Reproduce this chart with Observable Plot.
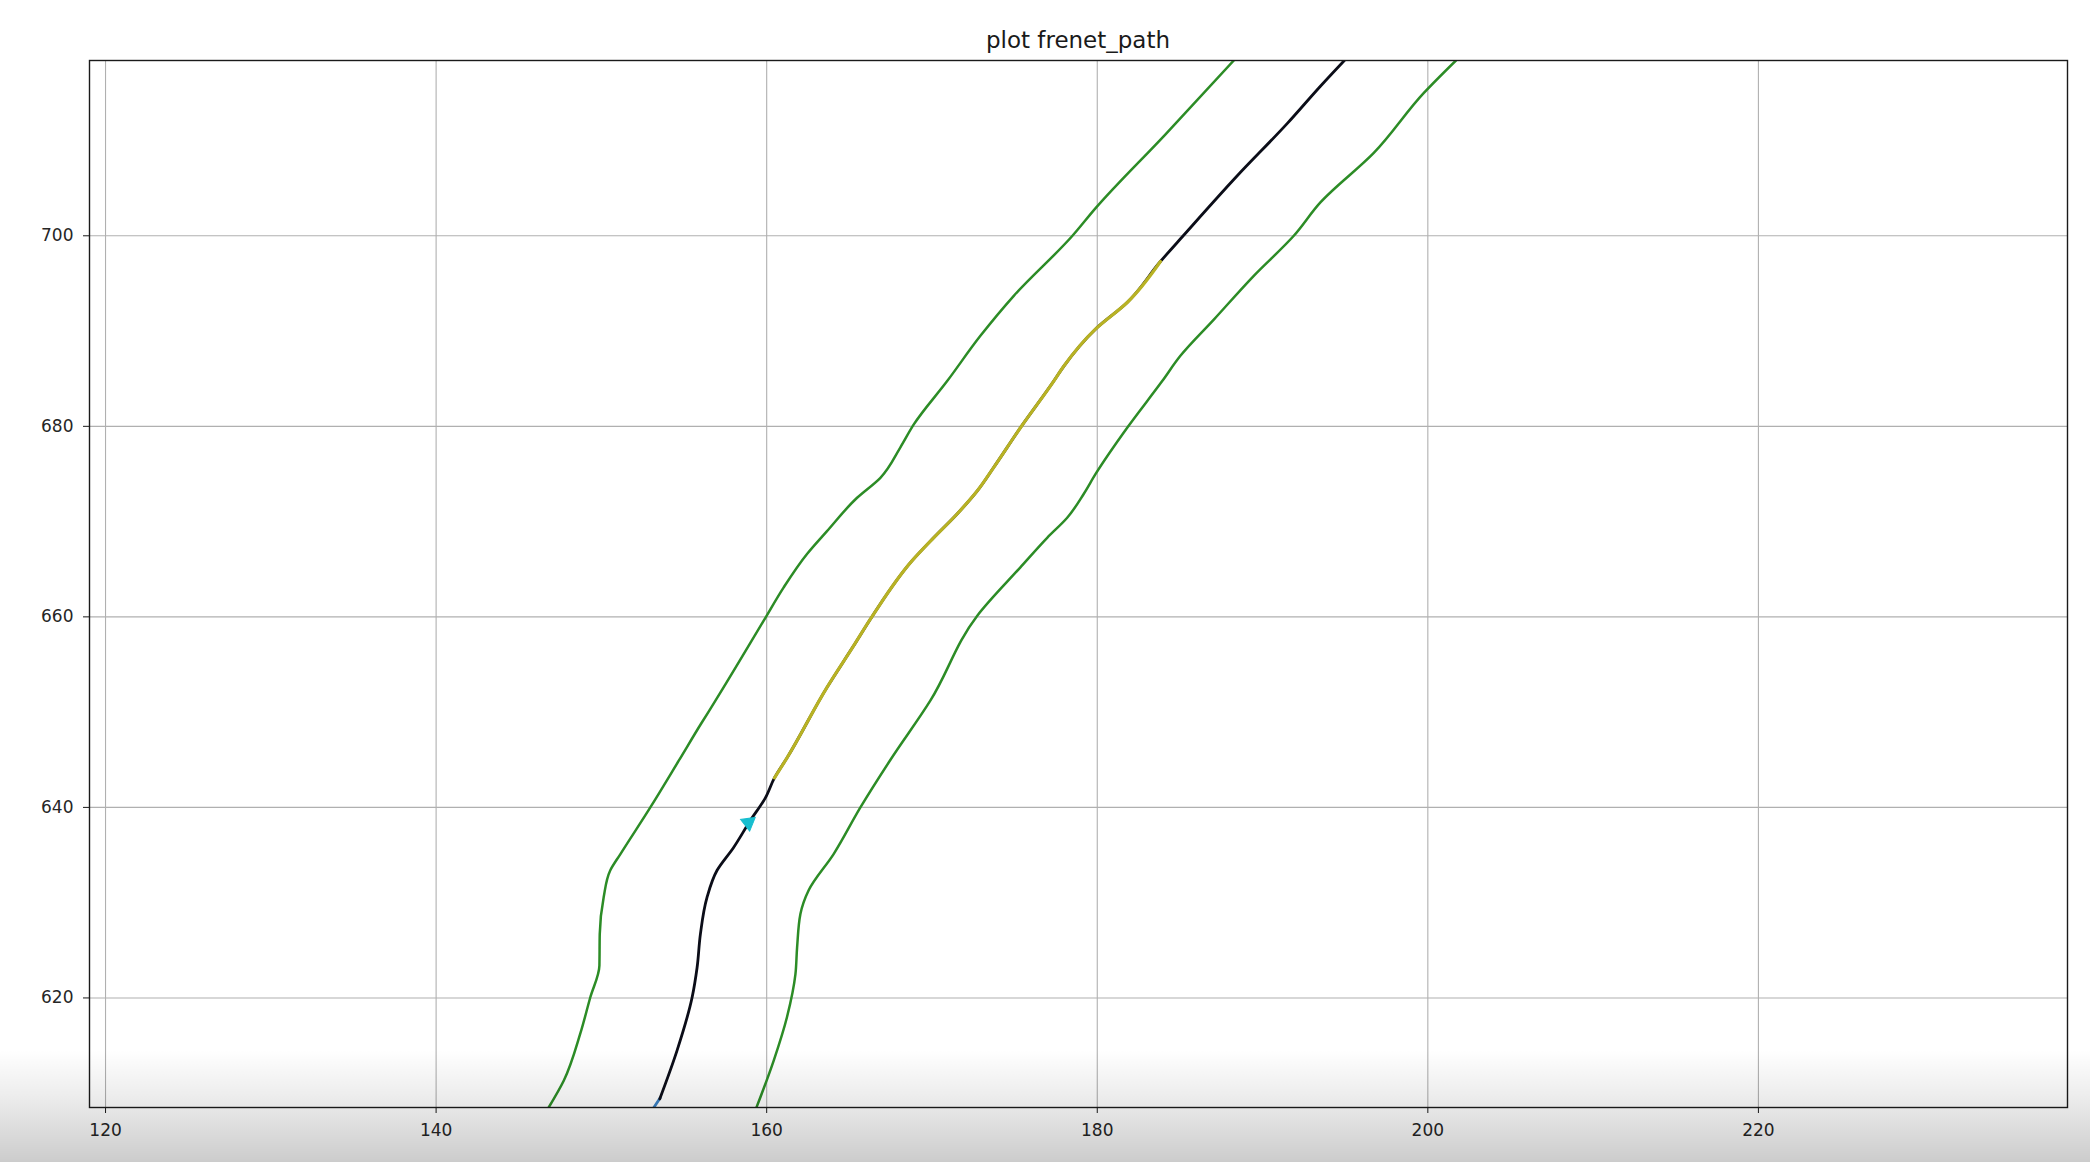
<!DOCTYPE html>
<html>
<head>
<meta charset="utf-8">
<script src="https://cdn.jsdelivr.net/npm/d3@7"></script>
<script src="https://cdn.jsdelivr.net/npm/@observablehq/plot@0.6"></script>
<style>
  html, body { margin: 0; padding: 0; background: #fff; }
  #wrap { position: relative; width: 2090px; height: 1162px; overflow: hidden; }
  #title { position: absolute; left: 89px; width: 1978px; top: 29px; text-align: center;
           font-family: "DejaVu Sans", sans-serif; font-size: 23px; line-height: 1; color: #1a1a1a; }
  #chart { position: absolute; left: 0; top: 50px; }
  #shade { position: absolute; left: 0; top: 1050px; width: 2090px; height: 112px; pointer-events: none;
           background: linear-gradient(to bottom, rgba(0,0,0,0) 0%, rgba(0,0,0,0.07) 40%, rgba(0,0,0,0.2) 100%); }
</style>
</head>
<body>
<div id="wrap">
  <div id="title">plot frenet_path</div>
  <div id="chart"></div>
  <div id="shade"></div>
</div>
<script>
// ---- data ----
const xTicks = [120, 140, 160, 180, 200, 220];
const yTicks = [620, 640, 660, 680, 700];

const leftBoundX = [146.81, 147.72, 148.73, 149.33, 149.88, 149.9, 150.14, 150.54, 151.15, 152.96, 154.68, 156.0, 156.9, 159.82, 161.03, 162.44, 163.65, 165.47, 166.88, 168.09, 168.9, 170.92, 172.93, 174.95, 178.5, 179.9, 184.1, 188.26];
const leftBoundY = [608.5, 611.3, 616.3, 620.07, 623.4, 626.7, 630.6, 633.4, 635.1, 640.0, 644.9, 648.7, 651.2, 659.6, 663.1, 666.6, 669.0, 672.5, 674.6, 677.8, 680.2, 684.75, 689.5, 693.7, 700.0, 702.9, 710.6, 718.4];

const rightBoundX = [159.38, 160.42, 161.23, 161.74, 161.84, 162.04, 162.54, 164.05, 165.67, 167.49, 169.9, 172.73, 175.35, 176.97, 178.18, 179.18, 179.9, 181.81, 183.93, 185.03, 187.05, 189.47, 191.89, 193.5, 196.73, 199.76, 201.7];
const rightBoundY = [608.5, 613.4, 618.0, 622.5, 625.3, 628.8, 631.3, 635.1, 640.0, 645.0, 651.2, 660.1, 665.2, 668.3, 670.4, 672.9, 675.0, 679.85, 684.75, 687.4, 691.2, 695.8, 700.0, 703.5, 708.7, 715.0, 718.4];

const refPathX = [153.53, 154.58, 155.49, 155.79, 155.99, 156.39, 157.0, 158.0, 159.0, 159.92, 160.47, 161.23, 163.65, 165.2, 166.4, 168.8, 170.1, 171.52, 172.73, 173.74, 175.35, 177.37, 177.97, 179.89, 181.81, 183.82, 185.2, 188.47, 191.5, 193.5, 194.95];
const refPathY = [609.4, 614.5, 620.07, 623.2, 626.7, 630.55, 633.4, 635.8, 638.6, 641.0, 643.1, 645.2, 652.6, 656.8, 660.1, 665.9, 668.3, 670.8, 673.2, 675.7, 679.85, 684.75, 686.3, 690.2, 693.0, 697.3, 700.0, 706.3, 711.8, 715.7, 718.4];

const frenetX = [160.47, 161.23, 163.65, 165.2, 166.4, 168.8, 170.1, 171.52, 172.73, 173.74, 175.35, 177.37, 177.97, 179.89, 181.81, 183.82];
const frenetY = [643.1, 645.2, 652.6, 656.8, 660.1, 665.9, 668.3, 670.8, 673.2, 675.7, 679.85, 684.75, 686.3, 690.2, 693.0, 697.3];

const historyX = [153.1, 153.55];
const historyY = [608.3, 609.5];

const vehicleX = [158.9];
const vehicleY = [638.4];

// ---- build tables ----
const toRows = (xs, ys) => xs.map((x, i) => ({x, y: ys[i]}));
const leftBound = toRows(leftBoundX, leftBoundY);
const rightBound = toRows(rightBoundX, rightBoundY);
const refPath = toRows(refPathX, refPathY);
const frenet = toRows(frenetX, frenetY);
const history = toRows(historyX, historyY);
const vehicle = toRows(vehicleX, vehicleY);

const chart = Plot.plot({
  width: 2090,
  height: 1112,
  marginLeft: 89,
  marginRight: 23,
  marginTop: 10,
  marginBottom: 55,
  style: {fontFamily: "DejaVu Sans, sans-serif", fontSize: "17px", color: "#262626", background: "transparent"},
  x: {domain: [119.03, 238.7], label: null},
  y: {domain: [608.5, 718.4], label: null},
  marks: [
    Plot.gridX(xTicks, {stroke: "#b0b0b0", strokeOpacity: 1, strokeWidth: 1.1}),
    Plot.gridY(yTicks, {stroke: "#b0b0b0", strokeOpacity: 1, strokeWidth: 1.1}),
    Plot.line(leftBound, {x: "x", y: "y", stroke: "#2c8c26", strokeWidth: 2.5, curve: "monotone-y", clip: true}),
    Plot.line(rightBound, {x: "x", y: "y", stroke: "#2c8c26", strokeWidth: 2.5, curve: "monotone-y", clip: true}),
    Plot.line(history, {x: "x", y: "y", stroke: "#3b82c4", strokeWidth: 2.8, clip: true}),
    Plot.line(refPath, {x: "x", y: "y", stroke: "#0b0d18", strokeWidth: 2.8, curve: "monotone-y", clip: true}),
    Plot.line(frenet, {x: "x", y: "y", stroke: "#b8b224", strokeWidth: 3.2, curve: "monotone-y", clip: true}),
    Plot.dot(vehicle, {x: "x", y: "y", symbol: "triangle", r: 5.5, fill: "#17becf", stroke: "#17becf", strokeWidth: 1, rotate: 172}),
    Plot.frame({stroke: "#1a1a1a", strokeWidth: 1.4}),
    Plot.axisX(xTicks, {tickSize: 6, tickPadding: 10, stroke: "#1a1a1a"}),
    Plot.axisY(yTicks, {tickSize: 6, tickPadding: 10, stroke: "#1a1a1a"})
  ]
});
document.getElementById("chart").appendChild(chart);
</script>
</body>
</html>
